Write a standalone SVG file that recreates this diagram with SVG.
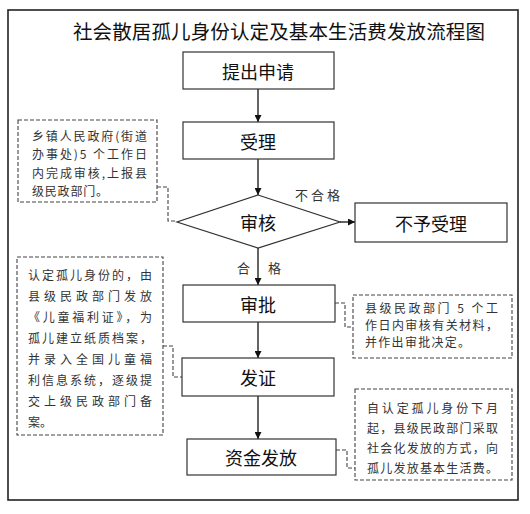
<svg xmlns="http://www.w3.org/2000/svg" width="530" height="514" viewBox="0 0 530 514">
<style>
.frame{fill:#fff;stroke:#222;stroke-width:1.6}
.box{fill:#fff;stroke:#333;stroke-width:1.2}
.note{fill:#fff;stroke:#444;stroke-width:1.1;stroke-dasharray:4 2}
.lbl{font-family:"Noto Sans CJK SC","Noto Sans",sans-serif;font-size:18px;fill:#111;text-anchor:middle;dominant-baseline:central}
.nt{font-family:"Noto Sans CJK SC","Noto Sans",sans-serif;font-size:12px;fill:#333;dominant-baseline:central}
.sm{font-family:"Noto Sans CJK SC","Noto Sans",sans-serif;font-size:13px;fill:#333;dominant-baseline:central}
.title{font-family:"Noto Sans CJK SC","Noto Sans",sans-serif;font-size:19.5px;fill:#111;dominant-baseline:central}
.arr{stroke:#111;stroke-width:1.3;fill:none;marker-end:url(#ah)}
.dl{stroke:#444;stroke-width:1.1;fill:none;stroke-dasharray:4 2}
</style>
<defs>
<marker id="ah" viewBox="0 0 10 10" refX="10" refY="5" markerWidth="7" markerHeight="7" markerUnits="userSpaceOnUse" orient="auto">
<path d="M0,0 L10,5 L0,10 z" fill="#111"/>
</marker>
</defs>
<rect class="frame" x="8" y="10" width="510" height="490"/>
<text class="title" x="73" y="30" textLength="412" lengthAdjust="spacing">社会散居孤儿身份认定及基本生活费发放流程图</text>

<g id="connectors">
<line class="arr" x1="258" y1="89" x2="258" y2="122"/>
<line class="arr" x1="258" y1="159" x2="258" y2="195"/>
<line class="arr" x1="258" y1="248" x2="258" y2="285"/>
<line class="arr" x1="258" y1="322" x2="258" y2="358"/>
<line class="arr" x1="258" y1="396" x2="258" y2="439"/>
<line class="arr" x1="340" y1="222" x2="355" y2="222"/>
<polyline class="dl" points="157,187 168,187 168,221 177,221"/>
<polyline class="dl" points="163,346 173,346 173,377 183,377"/>
<polyline class="dl" points="335,303 345,303 345,327 353,327"/>
<polyline class="dl" points="336,450 347,450 347,468 355,468"/>
<text class="sm" x="295" y="194" textLength="45" lengthAdjust="spacing">不合格</text>
<text class="sm" x="237" y="267">合</text>
<text class="sm" x="268" y="267">格</text>
</g>

<g id="n1"><rect class="box" x="183" y="52" width="151" height="37"/><text class="lbl" x="258" y="70.5">提出申请</text></g>
<g id="n2"><rect class="box" x="183" y="122" width="151" height="37"/><text class="lbl" x="258" y="140.5">受理</text></g>
<g id="n3"><polygon class="box" points="258,195 340,222 258,248 177,222"/><text class="lbl" x="258" y="222">审核</text></g>
<g id="n4"><rect class="box" x="355" y="203" width="152" height="39"/><text class="lbl" x="431" y="222.5">不予受理</text></g>
<g id="n5"><rect class="box" x="183" y="285" width="152" height="37"/><text class="lbl" x="258" y="303.5">审批</text></g>
<g id="n6"><rect class="box" x="182" y="358" width="152" height="38"/><text class="lbl" x="258" y="377">发证</text></g>
<g id="n7"><rect class="box" x="187" y="439" width="149" height="36"/><text class="lbl" x="261" y="457">资金发放</text></g>

<g id="note1"><rect class="note" x="18" y="120" width="139" height="82"/>
<text class="nt" x="32" y="135" textLength="115" lengthAdjust="spacing">乡镇人民政府(街道</text>
<text class="nt" x="32" y="153.5" textLength="115" lengthAdjust="spacing">办事处)5 个工作日</text>
<text class="nt" x="32" y="172" textLength="115" lengthAdjust="spacing">内完成审核,上报县</text>
<text class="nt" x="32" y="190" letter-spacing="0.8">级民政部门。</text>
</g>

<g id="note2"><rect class="note" x="17" y="257" width="146" height="178"/>
<text class="nt" x="28" y="274" textLength="124" lengthAdjust="spacing">认定孤儿身份的，由</text>
<text class="nt" x="28" y="295" textLength="124" lengthAdjust="spacing">县级民政部门发放</text>
<text class="nt" x="28" y="316" textLength="124" lengthAdjust="spacing">《儿童福利证》，为</text>
<text class="nt" x="28" y="337" textLength="124" lengthAdjust="spacing">孤儿建立纸质档案，</text>
<text class="nt" x="28" y="358" textLength="124" lengthAdjust="spacing">并录入全国儿童福</text>
<text class="nt" x="28" y="379" textLength="124" lengthAdjust="spacing">利信息系统，逐级提</text>
<text class="nt" x="28" y="400" textLength="124" lengthAdjust="spacing">交上级民政部门备</text>
<text class="nt" x="28" y="421">案。</text>
</g>

<g id="note3"><rect class="note" x="353" y="295" width="159" height="63"/>
<text class="nt" x="365" y="307" textLength="133" lengthAdjust="spacing">县级民政部门 5 个工</text>
<text class="nt" x="365" y="324" textLength="133" lengthAdjust="spacing">作日内审核有关材料，</text>
<text class="nt" x="365" y="341" letter-spacing="1.3">并作出审批决定。</text>
</g>

<g id="note4"><rect class="note" x="355" y="389" width="157" height="91"/>
<text class="nt" x="367" y="407" textLength="131" lengthAdjust="spacing">自认定孤儿身份下月</text>
<text class="nt" x="367" y="427" textLength="131" lengthAdjust="spacing">起，县级民政部门采取</text>
<text class="nt" x="367" y="447" textLength="131" lengthAdjust="spacing">社会化发放的方式，向</text>
<text class="nt" x="367" y="467" textLength="131" lengthAdjust="spacing">孤儿发放基本生活费。</text>
</g>
</svg>
